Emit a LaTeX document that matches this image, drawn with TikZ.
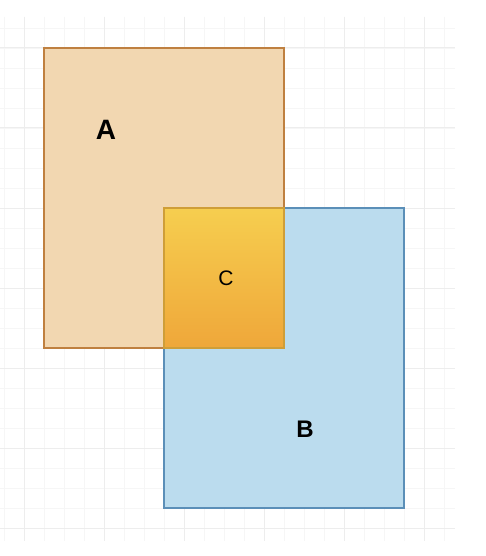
\documentclass[tikz,border=0pt]{standalone}
\usepackage{fontspec}
\setmainfont{Liberation Sans}
\definecolor{gridminor}{HTML}{F6F6F6}
\definecolor{gridmajor}{HTML}{EDEDED}
\definecolor{afill}{HTML}{F2D7B1}
\definecolor{aline}{HTML}{BF8040}
\definecolor{bfill}{HTML}{BBDCEE}
\definecolor{bline}{HTML}{5B8FB8}
\definecolor{ctop}{HTML}{F6CE4F}
\definecolor{cbot}{HTML}{EFA73A}
\definecolor{cline}{HTML}{CF9E38}
\begin{document}
\begin{tikzpicture}[x=1pt,y=-1pt,
  boxa/.style={draw=aline,fill=afill,line width=1.3pt,minimum width=240pt,minimum height=300pt,inner sep=0pt},
  boxb/.style={draw=bline,fill=bfill,line width=1.3pt,minimum width=240pt,minimum height=300pt,inner sep=0pt},
  boxc/.style={draw=cline,top color=ctop,bottom color=cbot,line width=1.3pt,minimum width=120pt,minimum height=140pt,inner sep=0pt},
  bigletter/.style={font=\fontsize{28}{30}\selectfont\bfseries,text=black,inner sep=0pt},
  midletter/.style={font=\fontsize{24}{26}\selectfont\bfseries,text=black,inner sep=0pt},
  smallletter/.style={font=\fontsize{21}{23}\selectfont,text=black,inner sep=0pt}]
\useasboundingbox (0,0) rectangle (486,556);
\fill[white] (0,0) rectangle (486,556);
% grid
\foreach \x in {4,24,...,444} \draw[gridminor,line width=0.8pt] (\x,17) -- (\x,541);
\foreach \y in {28,48,...,528} \draw[gridminor,line width=0.8pt] (0,\y) -- (455,\y);
\foreach \x in {24,104,...,424} \draw[gridmajor,line width=1pt] (\x,17) -- (\x,541);
\foreach \y in {48,128,...,528} \draw[gridmajor,line width=1pt] (0,\y) -- (455,\y);
% boxes
\node[boxa] (A) at (164,198) {};
\node[boxb] (B) at (284,358) {};
\node[boxc] (C) at (224,278) {};
% labels
\node[bigletter] (la) at (106,130) {A};
\node[midletter] (lb) at (305,429) {B};
\node[smallletter] (lc) at (226,278) {C};
\end{tikzpicture}
\end{document}
